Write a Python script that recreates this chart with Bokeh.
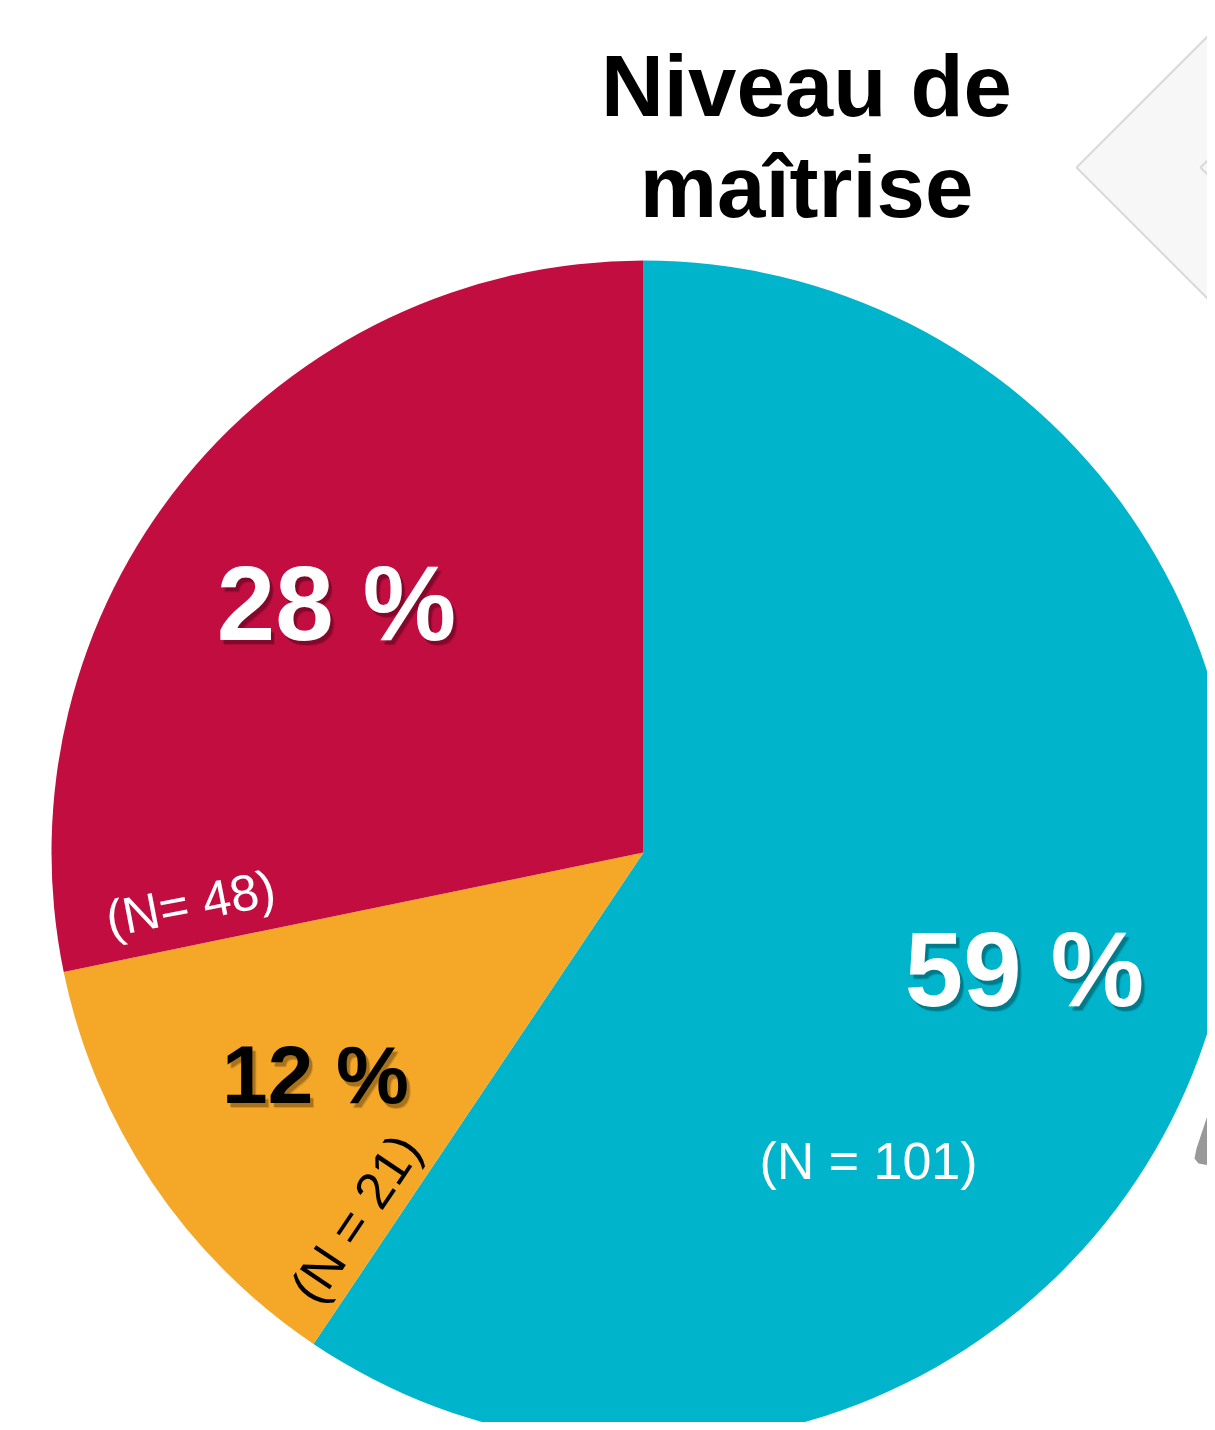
import math
from bokeh.plotting import figure
from bokeh.models import Range1d, ColumnDataSource
from bokeh.core.properties import value
from bokeh.embed import file_html
from bokeh.resources import INLINE

# ---- data (clockwise from 12 o'clock) ----
categories = ["A", "B", "C"]
counts = [101, 21, 48]
pct_labels = ["59 %", "12 %", "28 %"]
n_labels = ["(N = 101)", "(N = 21)", "(N= 48)"]
colors = ["#00B4CC", "#F5A727", "#C20D40"]
title_lines = ["Niveau de", "maîtrise"]

W, H = 1207, 1422
TOP = 1422  # page y -> data y conversion: y = TOP - page_y

p = figure(width=W, height=H, output_backend="svg", toolbar_location=None,
           x_range=Range1d(0, W), y_range=Range1d(0, H),
           min_border=0, outline_line_color=None)
p.axis.visible = False
p.grid.visible = False
p.background_fill_color = "white"
p.border_fill_color = "white"

# decorative elements at right edge (partially cut-off background shapes)
d = 300
p.patch([1076, 1076 + d, 1076 + 2 * d, 1076 + d], [TOP - 167, TOP - 167 + d, TOP - 167, TOP - 167 - d],
        fill_color="#F7F7F7", line_color="#DADADA", line_width=2)
p.line([1230, 1200, 1230], [TOP - 137, TOP - 167, TOP - 197], line_color="#DADADA", line_width=2)
p.patch([1213, 1196, 1194, 1198, 1215], [TOP - 1097, TOP - 1148, TOP - 1158, TOP - 1163, TOP - 1166],
        fill_color="#999999", line_color=None)

# ---- pie ----
cx, cy, r = 643, TOP - 852, 592
total = sum(counts)
ends, starts = [], []
a = 90.0
for c in counts:
    e = a
    s = a - 360.0 * c / total
    ends.append(math.radians(e))
    starts.append(math.radians(s))
    a = s

src = ColumnDataSource(dict(x=[cx] * 3, y=[cy] * 3, start=starts, end=ends, color=colors))
p.wedge(x="x", y="y", radius=r, start_angle="start", end_angle="end", direction="anticlock",
        fill_color="color", line_color=None, source=src)

# ---- percentage labels ----
pct_x = [1024, 315, 336]
pct_y = [TOP - 969, TOP - 1074, TOP - 603]
pct_size = ["105px", "82px", "105px"]
pct_color = ["white", "black", "white"]
for i in range(3):
    for dx, dy, al in [(3, -4, 0.22), (4, -5, 0.12)]:
        p.text(x=[pct_x[i] + dx], y=[pct_y[i] + dy], text=[pct_labels[i]],
               text_font=value("Liberation Sans"), text_font_style="bold",
               text_font_size=pct_size[i], text_color="black", text_alpha=al,
               text_align="center", text_baseline="middle")
    p.text(x=[pct_x[i]], y=[pct_y[i]], text=[pct_labels[i]],
           text_font=value("Liberation Sans"), text_font_style="bold",
           text_font_size=pct_size[i], text_color=pct_color[i],
           text_align="center", text_baseline="middle")

# ---- N labels ----
n_x = [868, 355, 190]
n_y = [TOP - 1160, TOP - 1218, TOP - 903]
n_angle = [0.0, 56.1, 11.0]
n_color = ["white", "black", "white"]
n_size = ["52px", "52px", "51px"]
for i in range(3):
    p.text(x=[n_x[i]], y=[n_y[i]], text=[n_labels[i]], angle=math.radians(n_angle[i]),
           text_font=value("Liberation Sans"), text_font_size=n_size[i],
           text_color=n_color[i], text_align="center", text_baseline="middle")

# ---- title ----
p.text(x=[806, 806], y=[TOP - 85, TOP - 186], text=title_lines,
       text_font=value("Liberation Sans"), text_font_style="bold",
       text_font_size="87px", text_color="black",
       text_align="center", text_baseline="middle")

open("out.html", "w").write(file_html(p, INLINE))
